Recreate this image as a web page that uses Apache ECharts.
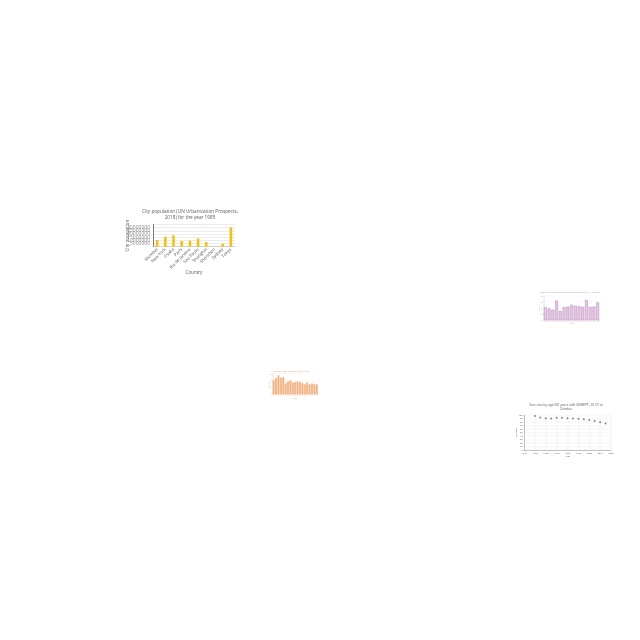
<!DOCTYPE html>
<html><head><meta charset="utf-8">
<script src="https://cdn.jsdelivr.net/npm/echarts@6/dist/echarts.min.js"></script>
<style>html,body{margin:0;padding:0;background:#fff}#c{width:640px;height:640px}</style>
</head><body><div id="c"></div>
<script>
// ---- Chart A: city population 1985 ----
const cityCategories = ['Mumbai','New York','Osaka','Paris','Rio de Janeiro','Sao Paulo','Shanghai','Shenzhen','Sydney','Tokyo'];
const cityPopulation1985 = [10500000,15800000,17900000,9000000,9500000,13100000,7300000,300000,4700000,30300000];
// ---- Chart B: pink bars ----
const pinkCategories = ['2002','2003','2004','2005','2006','2007','2008','2009','2010','2011','2012','2013','2014','2015','2016'];
const pinkValues = [43,39,35,65,31,43,45,51,48,46,44,67,44,45,59];
// ---- Chart C: orange bars ----
const orangeCategories = ['1998','1999','2000','2001','2002','2003','2004','2005','2006','2007','2008','2009','2010','2011','2012','2013','2014','2015','2016'];
const orangeValues = [41,48,56,49,51,32,38,41,34,36,38,36,33,29,35,29,32,30,29];
// ---- Chart D: sex ratio scatter ----
const sexRatioYears = [1950,1955,1960,1965,1970,1975,1980,1985,1990,1995,2000,2005,2010,2015];
const sexRatioValues = [97,93,91,90,92,92,91,90,89,88,86,83,79,76];

const FONT = 'Open Sans';
const chart = echarts.init(document.getElementById('c'), null, {renderer:'canvas'});
const grey = '#595959';
const plain = v => String(v);

chart.setOption({
  animation:false,
  backgroundColor:'#ffffff',
  textStyle:{fontFamily:FONT},
  title:[
    {text:'City population (UN Urbanization Prospects,\n2018) for the year 1985', left:190, top:209, textAlign:'center', padding:0,
     textStyle:{fontSize:4.7, lineHeight:5.7, color:grey, fontWeight:'normal', fontFamily:FONT}},
    {text:'Share of urban population living in slums (UN-Habitat)', left:570, top:291.3, textAlign:'center', padding:0,
     textStyle:{fontSize:2.4, color:'#b99ab9', fontWeight:'normal', fontFamily:FONT}},
    {text:'Deaths from road injuries, 1990', left:291, top:369.9, textAlign:'center', padding:0,
     textStyle:{fontSize:2.4, color:'#e0a47a', fontWeight:'normal', fontFamily:FONT}},
    {text:'Sex ratio by age (60 years old) (UNWPP, 2017) in\nZambia', left:566, top:402.8, textAlign:'center', padding:0,
     textStyle:{fontSize:3.3, lineHeight:4.4, color:grey, fontWeight:'normal', fontFamily:FONT}}
  ],
  grid:[
    {left:153, top:224.5, width:82, height:22.2},
    {left:543.5, top:296, width:56, height:24.3},
    {left:272.5, top:374, width:45.5, height:20.3},
    {left:524, top:415, width:87, height:35}
  ],
  xAxis:[
    {gridIndex:0, type:'category', data:cityCategories,
     axisLine:{lineStyle:{color:'#bfbfbf', width:0.6}}, axisTick:{show:false},
     axisLabel:{rotate:45, interval:0, fontSize:4.3, color:grey, margin:2, fontFamily:FONT},
     name:'Country', nameLocation:'middle', nameGap:24, nameMoveOverlap:false,
     nameTextStyle:{fontSize:4.5, color:grey, fontFamily:FONT}},
    {gridIndex:1, type:'category', data:pinkCategories,
     axisLine:{lineStyle:{color:'#d6c2d6', width:0.4}}, axisTick:{show:false}, axisLabel:{show:false},
     name:'Year', nameLocation:'middle', nameGap:2, nameMoveOverlap:false,
     nameTextStyle:{fontSize:2.2, color:'#b99ab9', fontFamily:FONT}},
    {gridIndex:2, type:'category', data:orangeCategories,
     axisLine:{lineStyle:{color:'#e8c2a4', width:0.4}}, axisTick:{show:false}, axisLabel:{show:false},
     name:'Year', nameLocation:'middle', nameGap:3, nameMoveOverlap:false,
     nameTextStyle:{fontSize:2.2, color:'#e0a47a', fontFamily:FONT}},
    {gridIndex:3, type:'value', min:1940, max:2020, interval:10,
     axisLine:{lineStyle:{color:'#8c8c8c', width:0.5}}, axisTick:{show:false},
     splitLine:{show:true, lineStyle:{color:'#e6e6e6', width:0.4}},
     axisLabel:{fontSize:2.4, color:grey, margin:2, fontFamily:FONT, formatter:plain},
     name:'Year', nameLocation:'middle', nameGap:5.5, nameMoveOverlap:false,
     nameTextStyle:{fontSize:2.4, color:grey, fontFamily:FONT}}
  ],
  yAxis:[
    {gridIndex:0, type:'value', min:0, max:35000000, interval:5000000,
     axisLine:{show:true, lineStyle:{color:'#404040', width:0.7}}, axisTick:{show:false},
     splitLine:{lineStyle:{color:'#d9d9d9', width:0.5}},
     axisLabel:{fontSize:5, color:'#8a8a8a', margin:3, fontFamily:FONT, formatter:plain},
     name:'City population', nameLocation:'middle', nameRotate:90, nameGap:23, nameMoveOverlap:false,
     nameTextStyle:{fontSize:4.5, color:grey, fontFamily:FONT}},
    {gridIndex:1, type:'value', min:0, max:80, interval:20,
     axisLine:{show:true, lineStyle:{color:'#c9b2c9', width:0.4}}, axisTick:{show:false},
     splitLine:{lineStyle:{color:'#f1e8f1', width:0.3}},
     axisLabel:{fontSize:1.8, color:'#b99ab9', margin:1, fontFamily:FONT, formatter:plain},
     name:'Value', nameLocation:'middle', nameRotate:90, nameGap:3.5, nameMoveOverlap:false,
     nameTextStyle:{fontSize:2, color:'#b99ab9', fontFamily:FONT}},
    {gridIndex:2, type:'value', min:0, max:60, interval:20,
     axisLine:{show:true, lineStyle:{color:'#d9a982', width:0.4}}, axisTick:{show:false},
     splitLine:{lineStyle:{color:'#f6ebe2', width:0.3}},
     axisLabel:{fontSize:1.8, color:'#e0a47a', margin:1, fontFamily:FONT, formatter:plain},
     name:'Deaths', nameLocation:'middle', nameRotate:90, nameGap:2.5, nameMoveOverlap:false,
     nameTextStyle:{fontSize:2, color:'#e0a47a', fontFamily:FONT}},
    {gridIndex:3, type:'value', min:0, max:100, interval:10,
     axisLine:{show:true, lineStyle:{color:'#8c8c8c', width:0.5}}, axisTick:{show:false},
     splitLine:{lineStyle:{color:'#e6e6e6', width:0.4}},
     axisLabel:{fontSize:2.4, color:grey, margin:1.5, fontFamily:FONT, formatter:plain},
     name:'Sex ratio', nameLocation:'middle', nameRotate:90, nameGap:6.5, nameMoveOverlap:false,
     nameTextStyle:{fontSize:2.4, color:grey, fontFamily:FONT}}
  ],
  series:[
    {type:'bar', xAxisIndex:0, yAxisIndex:0, data:cityPopulation1985, barWidth:'32%',
     itemStyle:{color:'#F4C20D'}},
    {type:'bar', xAxisIndex:1, yAxisIndex:1, data:pinkValues, barCategoryGap:'22%',
     itemStyle:{color:'#e6c8e6', borderColor:'#b686b6', borderWidth:0.5}},
    {type:'bar', xAxisIndex:2, yAxisIndex:2, data:orangeValues, barCategoryGap:'30%',
     itemStyle:{color:'#f8c8a2', borderColor:'#ec9150', borderWidth:0.5}},
    {type:'scatter', xAxisIndex:3, yAxisIndex:3, data:sexRatioYears.map((y,i)=>[y,sexRatioValues[i]]),
     symbolSize:2, itemStyle:{color:'#5c6b7a'}}
  ]
});
</script>
</body></html>
